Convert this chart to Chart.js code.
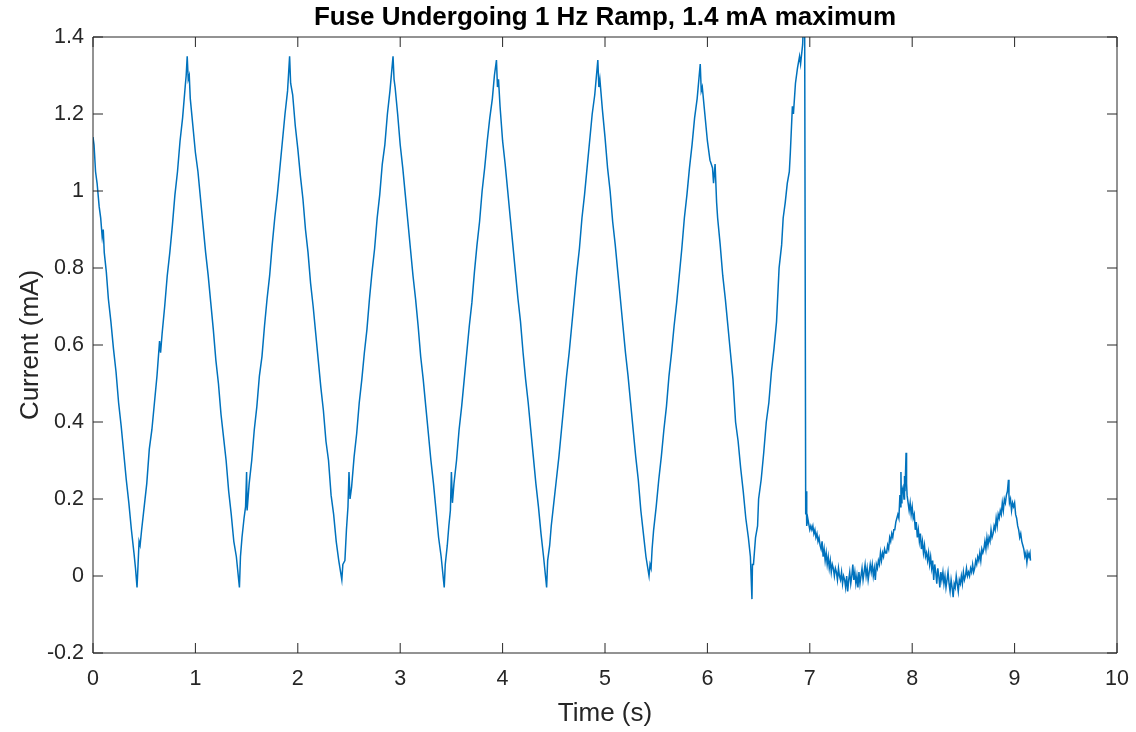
<!DOCTYPE html>
<html>
<head>
<meta charset="utf-8">
<title>Fuse Undergoing 1 Hz Ramp</title>
<script src="https://cdn.jsdelivr.net/npm/chart.js@4.4.1/dist/chart.umd.min.js"></script>
<style>
  html, body { margin: 0; padding: 0; background: #fff; }
  #rampChart { display: block; }
</style>
</head>
<body>
<canvas id="rampChart" width="1136" height="732"></canvas>
<script>
// Scope trace, [time s, current mA], one array per ramp leg
const rampStart = [
    [0.00, 1.14], [0.01, 1.12], [0.025, 1.05], [0.04, 1.02], [0.06, 0.96], [0.075, 0.93],
    [0.09, 0.88], [0.10, 0.90], [0.11, 0.84], [0.13, 0.79], [0.15, 0.72], [0.175, 0.66],
    [0.20, 0.59], [0.225, 0.53], [0.25, 0.45], [0.275, 0.39], [0.30, 0.32], [0.325, 0.25],
    [0.35, 0.19], [0.375, 0.12], [0.40, 0.06], [0.415, 0.02], [0.43, -0.03]
];
const ramp1 = [
    [0.44, 0.03], [0.45, 0.09], [0.46, 0.08], [0.475, 0.12], [0.50, 0.18], [0.525, 0.24],
    [0.55, 0.33], [0.575, 0.38], [0.60, 0.45], [0.625, 0.52], [0.65, 0.61], [0.66, 0.58],
    [0.675, 0.63], [0.70, 0.70], [0.725, 0.78], [0.75, 0.84], [0.775, 0.91], [0.80, 0.99],
    [0.825, 1.05], [0.85, 1.13], [0.875, 1.19], [0.90, 1.27], [0.91, 1.30], [0.92, 1.35],
    [0.93, 1.29], [0.94, 1.30], [0.95, 1.24], [0.975, 1.17], [1.00, 1.10], [1.025, 1.05],
    [1.05, 0.98], [1.075, 0.91], [1.10, 0.84], [1.125, 0.78], [1.15, 0.71], [1.175, 0.64],
    [1.20, 0.56], [1.225, 0.50], [1.25, 0.42], [1.275, 0.36], [1.30, 0.30], [1.325, 0.22],
    [1.35, 0.16], [1.375, 0.09], [1.40, 0.05], [1.43, -0.03]
];
const ramp2 = [
    [1.44, 0.05], [1.455, 0.10], [1.475, 0.15], [1.49, 0.18], [1.50, 0.27], [1.505, 0.17],
    [1.525, 0.24], [1.55, 0.30], [1.575, 0.38], [1.60, 0.44], [1.625, 0.52], [1.65, 0.57],
    [1.675, 0.65], [1.70, 0.72], [1.725, 0.78], [1.75, 0.86], [1.775, 0.93], [1.80, 0.99],
    [1.825, 1.06], [1.85, 1.13], [1.875, 1.20], [1.90, 1.26], [1.92, 1.35],
    [1.93, 1.28], [1.95, 1.25], [1.975, 1.17], [2.00, 1.11], [2.025, 1.04], [2.05, 0.98],
    [2.075, 0.90], [2.10, 0.84], [2.125, 0.76], [2.15, 0.70], [2.175, 0.63], [2.20, 0.56],
    [2.225, 0.49], [2.25, 0.43], [2.275, 0.35], [2.30, 0.30], [2.325, 0.21], [2.35, 0.16],
    [2.375, 0.09], [2.40, 0.04], [2.43, -0.01]
];
const ramp3 = [
    [2.44, 0.03], [2.46, 0.04], [2.475, 0.12], [2.49, 0.18], [2.50, 0.27], [2.51, 0.20],
    [2.525, 0.23], [2.55, 0.31], [2.575, 0.37], [2.60, 0.45], [2.625, 0.51], [2.65, 0.58],
    [2.675, 0.64], [2.70, 0.72], [2.725, 0.79], [2.75, 0.85], [2.775, 0.93], [2.80, 0.99],
    [2.825, 1.07], [2.85, 1.12], [2.875, 1.20], [2.90, 1.26], [2.93, 1.35],
    [2.94, 1.29], [2.95, 1.27], [2.975, 1.20], [3.00, 1.12], [3.025, 1.06], [3.05, 0.99],
    [3.075, 0.92], [3.10, 0.85], [3.125, 0.78], [3.15, 0.72], [3.175, 0.65], [3.20, 0.57],
    [3.225, 0.51], [3.25, 0.44], [3.275, 0.37], [3.30, 0.30], [3.325, 0.24], [3.35, 0.17],
    [3.375, 0.10], [3.40, 0.05], [3.43, -0.03]
];
const ramp4 = [
    [3.44, 0.03], [3.46, 0.08], [3.475, 0.13], [3.49, 0.17], [3.50, 0.27], [3.51, 0.19],
    [3.525, 0.24], [3.55, 0.30], [3.575, 0.38], [3.60, 0.44], [3.625, 0.51], [3.65, 0.58],
    [3.675, 0.65], [3.70, 0.71], [3.725, 0.79], [3.75, 0.86], [3.775, 0.92], [3.80, 1.00],
    [3.825, 1.06], [3.85, 1.13], [3.875, 1.19], [3.90, 1.24], [3.92, 1.30], [3.94, 1.34],
    [3.95, 1.27], [3.96, 1.29], [3.975, 1.22], [4.00, 1.13], [4.025, 1.07], [4.05, 1.00],
    [4.075, 0.93], [4.10, 0.86], [4.125, 0.79], [4.15, 0.72], [4.175, 0.66], [4.20, 0.58],
    [4.225, 0.51], [4.25, 0.45], [4.275, 0.38], [4.30, 0.31], [4.325, 0.24], [4.35, 0.18],
    [4.375, 0.11], [4.40, 0.05], [4.43, -0.03]
];
const ramp5 = [
    [4.44, 0.04], [4.46, 0.08], [4.475, 0.13], [4.50, 0.19], [4.525, 0.25], [4.55, 0.31],
    [4.575, 0.38], [4.60, 0.45], [4.625, 0.52], [4.65, 0.58], [4.675, 0.65], [4.70, 0.72],
    [4.725, 0.79], [4.75, 0.85], [4.775, 0.93], [4.80, 0.99], [4.825, 1.06], [4.85, 1.13],
    [4.875, 1.20], [4.90, 1.25], [4.93, 1.34],
    [4.94, 1.27], [4.95, 1.29], [4.975, 1.21], [5.00, 1.14], [5.025, 1.06], [5.05, 1.00],
    [5.075, 0.92], [5.10, 0.86], [5.125, 0.79], [5.15, 0.72], [5.175, 0.65], [5.20, 0.58],
    [5.225, 0.52], [5.25, 0.45], [5.275, 0.38], [5.30, 0.31], [5.325, 0.25], [5.35, 0.17],
    [5.375, 0.11], [5.40, 0.05], [5.43, 0.00]
];
const ramp6 = [
    [5.44, 0.03], [5.45, 0.02], [5.46, 0.07], [5.475, 0.12], [5.50, 0.18], [5.525, 0.25],
    [5.55, 0.31], [5.575, 0.38], [5.60, 0.44], [5.625, 0.52], [5.65, 0.58], [5.675, 0.65],
    [5.70, 0.71], [5.725, 0.78], [5.75, 0.85], [5.775, 0.93], [5.80, 0.99], [5.825, 1.06],
    [5.85, 1.12], [5.875, 1.19], [5.90, 1.24], [5.93, 1.33],
    [5.94, 1.26], [5.95, 1.27], [5.975, 1.20], [6.00, 1.13], [6.025, 1.08], [6.05, 1.06],
    [6.06, 1.02], [6.075, 1.07], [6.09, 0.97], [6.10, 0.93], [6.125, 0.86], [6.15, 0.78],
    [6.175, 0.72], [6.20, 0.65], [6.225, 0.58], [6.25, 0.51], [6.275, 0.40], [6.30, 0.35],
    [6.325, 0.28], [6.35, 0.22], [6.375, 0.15], [6.40, 0.10], [6.42, 0.05], [6.435, -0.06]
];
// last ramp, then the fuse opens just under 7 s
const ramp7 = [
    [6.44, 0.03], [6.45, 0.03], [6.47, 0.10], [6.49, 0.13], [6.50, 0.20], [6.525, 0.25],
    [6.55, 0.32], [6.575, 0.40], [6.60, 0.45], [6.625, 0.53], [6.65, 0.59], [6.675, 0.66],
    [6.70, 0.80], [6.725, 0.86], [6.74, 0.93], [6.76, 0.97], [6.78, 1.02], [6.80, 1.05],
    [6.81, 1.10], [6.83, 1.22], [6.84, 1.20], [6.86, 1.28], [6.88, 1.32], [6.90, 1.35],
    [6.91, 1.33], [6.93, 1.38], [6.94, 1.45], [6.95, 1.42], [6.96, 0.16], [6.965, 0.22],
    [6.97, 0.13], [6.98, 0.15]
];
const afterBlow = [
    [7.00, 0.12], [7.01, 0.13], [7.02, 0.12], [7.03, 0.13], [7.04, 0.11], [7.05, 0.12],
    [7.06, 0.10], [7.07, 0.11], [7.08, 0.09], [7.09, 0.10], [7.10, 0.08], [7.11, 0.07],
    [7.12, 0.09], [7.13, 0.05], [7.14, 0.07], [7.15, 0.04], [7.16, 0.06], [7.17, 0.03],
    [7.18, 0.05], [7.19, 0.02], [7.20, 0.04], [7.21, 0.01], [7.22, 0.03], [7.23, 0.02],
    [7.24, 0.00], [7.25, 0.02], [7.26, 0.01], [7.27, -0.01], [7.28, 0.02], [7.29, 0.00],
    [7.30, -0.01], [7.31, 0.01], [7.32, -0.02], [7.33, 0.00], [7.34, -0.01], [7.35, -0.03],
    [7.36, 0.00], [7.37, -0.04], [7.38, -0.01], [7.39, 0.01], [7.40, -0.02], [7.41, 0.00],
    [7.42, 0.03], [7.43, -0.01], [7.44, 0.01], [7.45, -0.02], [7.46, 0.00], [7.47, -0.03],
    [7.48, 0.01], [7.49, -0.02], [7.50, 0.00], [7.51, 0.02], [7.52, -0.01], [7.53, 0.01],
    [7.54, 0.03], [7.55, 0.00], [7.56, 0.02], [7.57, -0.01], [7.58, 0.01], [7.59, 0.03],
    [7.60, 0.01], [7.61, 0.03], [7.62, 0.00], [7.63, 0.02], [7.64, -0.01], [7.65, 0.03],
    [7.66, 0.02], [7.67, 0.04], [7.68, 0.03], [7.69, 0.06], [7.70, 0.04], [7.71, 0.06],
    [7.72, 0.05], [7.73, 0.07], [7.74, 0.06], [7.75, 0.06], [7.76, 0.08], [7.77, 0.07],
    [7.78, 0.10], [7.79, 0.09], [7.80, 0.11], [7.81, 0.10], [7.82, 0.12], [7.83, 0.12],
    [7.84, 0.14], [7.85, 0.15], [7.86, 0.16], [7.87, 0.15], [7.88, 0.21], [7.885, 0.18],
    [7.89, 0.27], [7.895, 0.19], [7.90, 0.22], [7.91, 0.23], [7.92, 0.20], [7.925, 0.26],
    [7.93, 0.22], [7.94, 0.32], [7.945, 0.24], [7.95, 0.21], [7.96, 0.19], [7.97, 0.17],
    [7.98, 0.19], [7.99, 0.16], [8.00, 0.18], [8.01, 0.15], [8.02, 0.16], [8.03, 0.12],
    [8.04, 0.14], [8.05, 0.10], [8.06, 0.12], [8.07, 0.09], [8.08, 0.11], [8.09, 0.07],
    [8.10, 0.09], [8.11, 0.06], [8.12, 0.08], [8.13, 0.05], [8.14, 0.06], [8.15, 0.04],
    [8.16, 0.06], [8.17, 0.03], [8.18, 0.05], [8.19, 0.02], [8.20, 0.04], [8.21, -0.01],
    [8.22, 0.03], [8.23, 0.01], [8.24, -0.02], [8.25, 0.02], [8.26, 0.00], [8.27, -0.03],
    [8.28, 0.01], [8.29, -0.01], [8.30, 0.01], [8.31, -0.02], [8.32, 0.00], [8.33, -0.03],
    [8.34, -0.01], [8.35, 0.01], [8.36, -0.02], [8.37, -0.04], [8.38, -0.01], [8.39, -0.03],
    [8.40, -0.055], [8.41, -0.02], [8.42, -0.03], [8.43, 0.00], [8.44, -0.02], [8.45, -0.04],
    [8.46, -0.01], [8.47, -0.02], [8.48, 0.00], [8.49, -0.02], [8.50, 0.01], [8.51, -0.01],
    [8.52, 0.00], [8.53, 0.02], [8.54, 0.00], [8.55, 0.01], [8.56, 0.00], [8.57, 0.02],
    [8.58, 0.01], [8.59, 0.03], [8.60, 0.01], [8.61, 0.02], [8.62, 0.04], [8.63, 0.03],
    [8.64, 0.05], [8.65, 0.04], [8.66, 0.06], [8.67, 0.04], [8.68, 0.07], [8.69, 0.06],
    [8.70, 0.07], [8.71, 0.09], [8.72, 0.07], [8.73, 0.10], [8.74, 0.08], [8.75, 0.10],
    [8.76, 0.09], [8.77, 0.12], [8.78, 0.10], [8.79, 0.11], [8.80, 0.13], [8.81, 0.12],
    [8.82, 0.15], [8.83, 0.13], [8.84, 0.16], [8.85, 0.15], [8.86, 0.17], [8.87, 0.16],
    [8.88, 0.19], [8.89, 0.17], [8.90, 0.20], [8.91, 0.19], [8.92, 0.21], [8.93, 0.22],
    [8.94, 0.25], [8.945, 0.21], [8.95, 0.19], [8.96, 0.20], [8.97, 0.17], [8.98, 0.19],
    [8.99, 0.18], [9.00, 0.19], [9.01, 0.16], [9.02, 0.15], [9.03, 0.13], [9.04, 0.12],
    [9.05, 0.10], [9.06, 0.11], [9.07, 0.09], [9.08, 0.08], [9.09, 0.07], [9.10, 0.05],
    [9.11, 0.06], [9.12, 0.035], [9.13, 0.06], [9.14, 0.05], [9.15, 0.06], [9.155, 0.04]
];

const timeTicks = [0, 1, 2, 3, 4, 5, 6, 7, 8, 9, 10];
const currentTicks = [-0.2, 0, 0.2, 0.4, 0.6, 0.8, 1, 1.2, 1.4];
const chartTitle = 'Fuse Undergoing 1 Hz Ramp, 1.4 mA maximum';

const traceSegments = [rampStart, ramp1, ramp2, ramp3, ramp4, ramp5, ramp6, ramp7, afterBlow];
const tracePoints = traceSegments.flat().map(([t, mA]) => ({ x: t, y: mA }));

const inkColor = '#262626';
const fontFamily = '"Liberation Sans", Arial, Helvetica, sans-serif';
const tickLen = 10;

// MATLAB style box: frame on all four sides, tick marks pointing inward,
// title centred over the axes rather than the whole canvas
const boxAxesPlugin = {
    id: 'boxAxes',
    afterDatasetsDraw(chart) {
        const { ctx, chartArea: a, scales: { x, y } } = chart;
        ctx.save();
        ctx.strokeStyle = inkColor;
        ctx.lineWidth = 1;
        ctx.beginPath();
        ctx.rect(a.left, a.top, a.right - a.left, a.bottom - a.top);
        timeTicks.forEach(t => {
            const px = x.getPixelForValue(t);
            ctx.moveTo(px, a.bottom);
            ctx.lineTo(px, a.bottom - tickLen);
            ctx.moveTo(px, a.top);
            ctx.lineTo(px, a.top + tickLen);
        });
        currentTicks.forEach(v => {
            const py = y.getPixelForValue(v);
            ctx.moveTo(a.left, py);
            ctx.lineTo(a.left + tickLen, py);
            ctx.moveTo(a.right, py);
            ctx.lineTo(a.right - tickLen, py);
        });
        ctx.stroke();

        ctx.fillStyle = '#000';
        ctx.font = 'bold 26px ' + fontFamily;
        ctx.textAlign = 'center';
        ctx.textBaseline = 'middle';
        ctx.fillText(chartTitle, (a.left + a.right) / 2, 18);
        ctx.restore();
    }
};

const tickFont = { family: fontFamily, size: 21.5 };
const labelFont = { family: fontFamily, size: 26, lineHeight: 1.2 };

new Chart(document.getElementById('rampChart'), {
    type: 'line',
    data: {
        datasets: [{
            label: 'Current',
            data: tracePoints,
            borderColor: '#0072BD',
            borderWidth: 1.5,
            pointRadius: 0,
            tension: 0,
            fill: false
        }]
    },
    options: {
        responsive: false,
        animation: false,
        devicePixelRatio: 1,
        layout: { padding: { left: 0, right: 19, top: 37, bottom: 0 } },
        plugins: {
            legend: { display: false },
            tooltip: { enabled: false },
            title: { display: false }
        },
        scales: {
            x: {
                type: 'linear',
                min: 0,
                max: 10,
                afterBuildTicks: scale => { scale.ticks = timeTicks.map(v => ({ value: v })); },
                afterFit: scale => {
                    scale.height = 79;
                    scale.paddingLeft = 0;
                    scale.paddingRight = 0;
                },
                grid: { display: false, drawTicks: false },
                border: { display: false },
                ticks: { color: inkColor, font: tickFont, padding: 13, maxRotation: 0, callback: v => String(v) },
                title: { display: true, text: 'Time (s)', color: inkColor, font: labelFont, padding: { top: 0, bottom: 3 } }
            },
            y: {
                type: 'linear',
                min: -0.2,
                max: 1.4,
                afterBuildTicks: scale => { scale.ticks = currentTicks.map(v => ({ value: v })); },
                afterFit: scale => {
                    scale.width = 93;
                    scale.paddingTop = 0;
                    scale.paddingBottom = 0;
                },
                grid: { display: false, drawTicks: false },
                border: { display: false },
                ticks: { color: inkColor, font: tickFont, padding: 9, callback: v => String(v) },
                title: { display: true, text: 'Current (mA)', color: inkColor, font: labelFont, padding: { top: 15, bottom: 0 } }
            }
        }
    },
    plugins: [boxAxesPlugin]
});
</script>
</body>
</html>
